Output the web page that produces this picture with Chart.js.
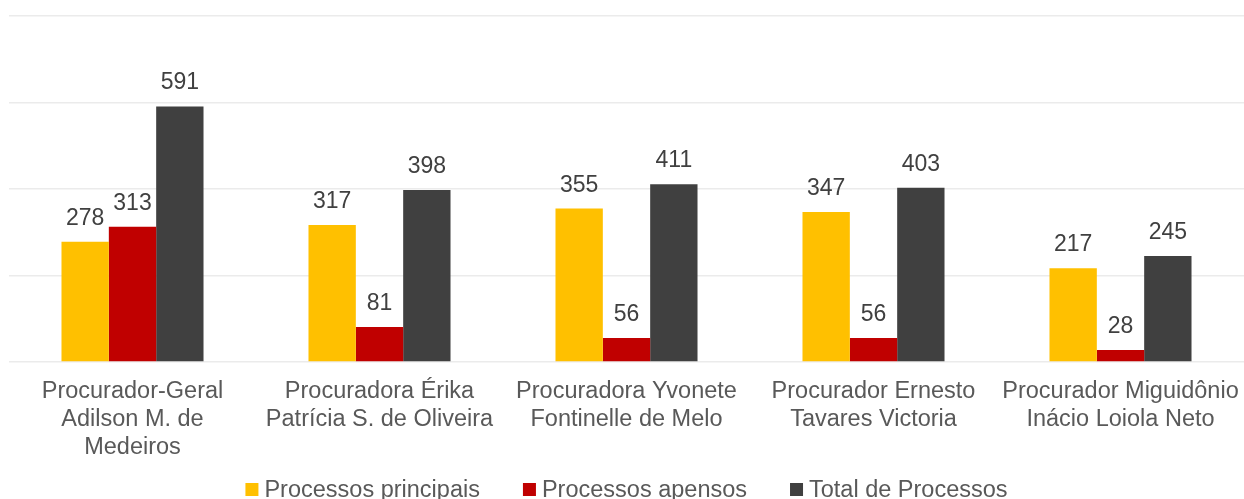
<!DOCTYPE html>
<html>
<head>
<meta charset="utf-8">
<script src="https://cdn.jsdelivr.net/npm/chart.js@4"></script>
<style>
html,body{margin:0;padding:0;background:#fff;}
#wrap{width:1244px;height:499px;}
</style>
</head>
<body>
<div id="wrap"><canvas id="c" width="1244" height="499"></canvas></div>
<script>
const categories = [
  ['Procurador-Geral','Adilson M. de','Medeiros'],
  ['Procuradora Érika','Patrícia S. de Oliveira'],
  ['Procuradora Yvonete','Fontinelle de Melo'],
  ['Procurador Ernesto','Tavares Victoria'],
  ['Procurador Miguidônio','Inácio Loiola Neto']
];
const seriesNames = ['Processos principais','Processos apensos','Total de Processos'];
const principais = [278, 317, 355, 347, 217];
const apensos = [313, 81, 56, 56, 28];
const total = [591, 398, 411, 403, 245];
const seriesColors = ['#FFC000','#C00000','#404040'];

const FONT = '"Liberation Sans", Arial, sans-serif';

const valueLabels = {
  id: 'valueLabels',
  afterDatasetsDraw(chart) {
    const ctx = chart.ctx;
    ctx.save();
    ctx.font = '23px ' + FONT;
    ctx.fillStyle = '#404040';
    ctx.textAlign = 'center';
    ctx.textBaseline = 'alphabetic';
    chart.data.datasets.forEach((ds, i) => {
      const meta = chart.getDatasetMeta(i);
      meta.data.forEach((bar, j) => {
        ctx.fillText(String(ds.data[j]), bar.x, bar.y - 17);
      });
    });
    ctx.restore();
  }
};

const customLegend = {
  id: 'customLegend',
  afterDraw(chart) {
    const ctx = chart.ctx;
    ctx.save();
    ctx.font = '23.5px ' + FONT;
    const box = 13, gapText = 6, gapItem = 43;
    const items = chart.data.datasets.map(ds => ({ text: ds.label, color: ds.backgroundColor, w: ctx.measureText(ds.label).width }));
    let totalW = 0;
    items.forEach((it, i) => { totalW += box + gapText + it.w + (i < items.length - 1 ? gapItem : 0); });
    const ca = chart.chartArea;
    let x = (ca.left + ca.right) / 2 - totalW / 2;
    const baseline = 497;
    items.forEach(it => {
      ctx.fillStyle = it.color;
      ctx.fillRect(x, 483, box, box);
      x += box + gapText;
      ctx.fillStyle = '#595959';
      ctx.textAlign = 'left';
      ctx.textBaseline = 'alphabetic';
      ctx.fillText(it.text, x, baseline);
      x += it.w + gapItem;
    });
    ctx.restore();
  }
};

new Chart(document.getElementById('c'), {
  type: 'bar',
  data: {
    labels: categories,
    datasets: [
      { label: seriesNames[0], data: principais, backgroundColor: seriesColors[0] },
      { label: seriesNames[1], data: apensos, backgroundColor: seriesColors[1] },
      { label: seriesNames[2], data: total, backgroundColor: seriesColors[2] }
    ]
  },
  options: {
    responsive: false,
    animation: false,
    layout: { padding: { left: 9, right: 0, top: 16, bottom: 36 } },
    datasets: { bar: { categoryPercentage: 0.575, barPercentage: 1.0 } },
    scales: {
      x: {
        grid: { display: false, drawTicks: true, tickLength: 13 },
        border: { display: false },
        ticks: {
          color: '#595959',
          font: { family: FONT, size: 23.5, lineHeight: 1.19 },
          padding: 2,
          maxRotation: 0,
          autoSkip: false
        }
      },
      y: {
        min: 0, max: 800,
        ticks: { display: false, stepSize: 200 },
        grid: { color: '#ebebeb', lineWidth: 1.5, drawTicks: false },
        border: { display: false }
      }
    },
    plugins: {
      legend: { display: false },
      tooltip: { enabled: false }
    }
  },
  plugins: [valueLabels, customLegend]
});
</script>
</body>
</html>
